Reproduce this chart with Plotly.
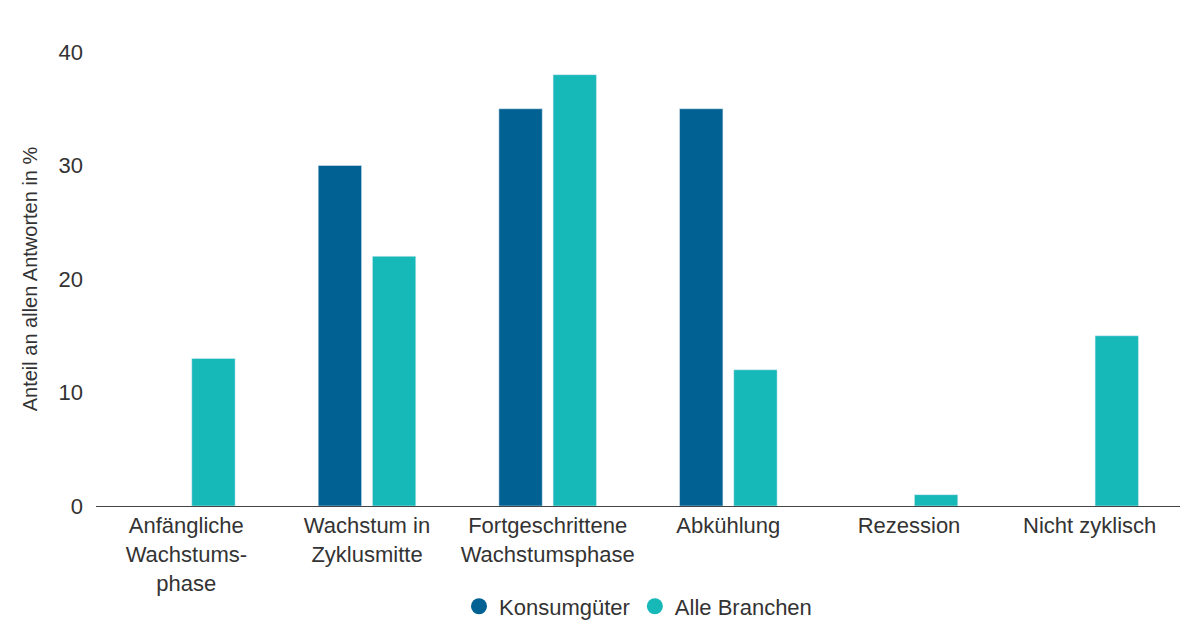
import plotly.graph_objects as go

categories = ["Anfängliche<br>Wachstums-<br>phase", "Wachstum in<br>Zyklusmitte",
              "Fortgeschrittene<br>Wachstumsphase", "Abkühlung", "Rezession", "Nicht zyklisch"]
konsum = [None, 30, 35, 35, None, None]
alle = [13, 22, 38, 12, 1, 15]

c_konsum = "#006192"
c_alle = "#16b8b8"

fig = go.Figure()
fig.add_bar(x=categories, y=konsum, marker_color=c_konsum, showlegend=False)
fig.add_bar(x=categories, y=alle, marker_color=c_alle, showlegend=False)
# legend entries as circles
for name, col in [("Konsumgüter", c_konsum), ("Alle Branchen", c_alle)]:
    fig.add_scatter(x=[None], y=[None], mode="markers", name=name,
                    marker=dict(color=col, size=16, symbol="circle"))

fig.update_layout(
    width=1200, height=631,
    margin=dict(l=88, r=28, t=44, b=123),
    plot_bgcolor="white", paper_bgcolor="white",
    font=dict(family="Liberation Sans, Arial", size=22, color="#333333"),
    barmode="group", bargap=0.4, bargroupgap=0.2,
    legend=dict(orientation="h", x=0.5, xanchor="center", y=-0.175, yanchor="top",
                font=dict(size=22), itemsizing="trace"),
)
fig.update_yaxes(range=[0, 40], tickvals=[0, 10, 20, 30, 40], showgrid=False,
                 zeroline=False, ticks="", ticklabelstandoff=12, automargin=False,
                 title=dict(text="Anteil an allen Antworten in %", font=dict(size=20)))
fig.update_xaxes(showline=True, linecolor="#444444", linewidth=1, ticks="",
                 tickfont=dict(size=22), automargin=False)

fig.write_html("out.html")
